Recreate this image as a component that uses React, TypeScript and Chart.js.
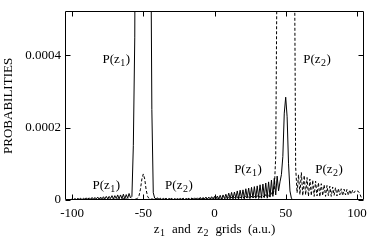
import { useEffect, useRef } from 'react';
import { Chart, registerables } from 'chart.js';

Chart.register(...registerables);

// grid points (a.u.)
const zGrid = [
  -101, -100, -99, -98, -97, -96, -95, -94, -93, -92,
  -91, -90, -89, -88, -87, -86, -85, -84, -83, -82,
  -81, -80, -79, -78, -77, -76, -75, -74, -73, -72,
  -71, -70, -69, -68, -67, -66, -65, -64, -63, -62,
  -61, -60, -59, -58, -57, -56, -55, -54, -53, -52,
  -51, -50, -49, -48, -47, -46, -45, -44, -43, -42,
  -41, -40, -39, -38, -37, -36, -35, -34, -33, -32,
  -31, -30, -29, -28, -27, -26, -25, -24, -23, -22,
  -21, -20, -19, -18, -17, -16, -15, -14, -13, -12,
  -11, -10, -9, -8, -7, -6, -5, -4, -3, -2,
  -1, 0, 1, 2, 3, 4, 5, 6, 7, 8,
  9, 10, 11, 12, 13, 14, 15, 16, 17, 18,
  19, 20, 21, 22, 23, 24, 25, 26, 27, 28,
  29, 30, 31, 32, 33, 34, 35, 36, 37, 38,
  39, 40, 41, 42, 43, 44, 45, 46, 47, 48,
  49, 50, 51, 52, 53, 54, 55, 56, 57, 58,
  59, 60, 61, 62, 63, 64, 65, 66, 67, 68,
  69, 70, 71, 72, 73, 74, 75, 76, 77, 78,
  79, 80, 81, 82, 83, 84, 85, 86, 87, 88,
  89, 90, 91, 92, 93, 94, 95, 96, 97, 98,
  99, 100, 101, 102, 103, 104,
];

// P(z1), in units of 1e-6 (solid)
const p1Micro = [
  0, 3, 1, 4, 1, 4, 2, 5, 1, 5,
  2, 6, 2, 6, 2, 7, 2, 7, 3, 8,
  2, 8, 3, 9, 3, 10, 3, 10, 4, 12,
  3, 12, 4, 14, 3, 14, 4, 16, 3, 15,
  5, 18, 6, 10, 150, 450, 1500, 3000, 3000, 3000,
  3000, 3000, 3000, 3000, 3000, 3000, 900, 250, 20, 5,
  3, 6, 2, 5, 1, 5, 2, 4, 1, 4,
  2, 4, 1, 3, 1, 4, 1, 4, 2, 5,
  1, 4, 2, 5, 1, 5, 2, 6, 2, 6,
  2, 7, 2, 7, 3, 8, 2, 8, 3, 9,
  3, 10, 3, 11, 3, 13, 2, 14, 4, 16,
  3, 19, 4, 21, 3, 22, 5, 25, 4, 27,
  5, 28, 4, 31, 6, 33, 5, 35, 6, 37,
  5, 39, 7, 42, 6, 44, 8, 47, 7, 50,
  9, 55, 10, 60, 14, 66, 25, 50, 70, 120,
  240, 284, 230, 100, 25, 5, 1, 0, 0, 0,
  0, 0, 0, 0, 0, 0, 0, 0, 0, 0,
  0, 0, 0, 0, 0, 0, 0, 0, 0, 0,
  0, 0, 0, 0, 0, 0, 0, 0, 0, 0,
  0, 0, 0, 0, 0, 0, 0, 0, 0, 0,
  0, 0, 0, 0, 0, 0,
];

// P(z2), in units of 1e-6 (dashed)
const p2Micro = [
  1, 2, 1, 2, 1, 3, 1, 2, 1, 3,
  1, 3, 1, 2, 1, 3, 1, 3, 1, 2,
  1, 3, 1, 3, 1, 3, 2, 3, 1, 3,
  1, 3, 2, 3, 1, 3, 2, 4, 1, 3,
  2, 3, 1, 2, 1, 2, 3, 5, 12, 30,
  58, 72, 58, 28, 10, 4, 2, 3, 2, 3,
  1, 3, 2, 3, 1, 3, 2, 4, 1, 3,
  2, 4, 1, 3, 2, 4, 1, 4, 2, 3,
  1, 4, 2, 4, 1, 5, 2, 4, 1, 5,
  2, 5, 1, 5, 2, 6, 2, 5, 2, 6,
  2, 6, 3, 5, 2, 7, 3, 6, 2, 7,
  3, 7, 2, 8, 3, 7, 3, 9, 2, 8,
  4, 9, 3, 10, 4, 9, 3, 11, 4, 10,
  5, 12, 4, 13, 5, 12, 6, 15, 5, 16,
  8, 20, 15, 30, 120, 700, 2500, 3000, 3000, 3000,
  3000, 3000, 3000, 3000, 3000, 3000, 2000, 800, 90, 20,
  70, 15, 76, 12, 68, 14, 62, 10, 58, 12,
  55, 10, 52, 11, 48, 9, 45, 12, 42, 10,
  40, 12, 38, 10, 36, 13, 34, 11, 32, 14,
  31, 12, 30, 14, 29, 13, 28, 16, 27, 20,
  26, 25, 24, 18, 8, 0,
];

const xTickValues = [-100, -50, 0, 50, 100];
const xTickLabels = ['-100', '-50', '0', '50', '100'];
const yTickValues = [0, 0.0002, 0.0004];
const yTickLabels = ['0', '0.0002', '0.0004'];

const yTitle = 'PROBABILITIES';
const xTitleParts = [
  { t: 'z', sub: false },
  { t: '1', sub: true },
  { t: '  and  z', sub: false },
  { t: '2', sub: true },
  { t: '  grids  (a.u.)', sub: false },
];

// curve labels: which subscript, placed at data coordinates
const annSub = ['1', '2', '1', '2', '1', '2'];
const annZ = [-69, 72, -76, -25, 23.5, 80.5];
const annP = [0.00039, 0.00039, 0.000044, 0.000044, 0.000086, 0.000086];

const FAMILY = '"Liberation Serif", "Times New Roman", serif';

function drawRich(ctx: CanvasRenderingContext2D, parts: { t: string; sub: boolean }[], cx: number, cy: number) {
  const main = `13px ${FAMILY}`;
  const small = `10px ${FAMILY}`;
  let w = 0;
  for (const p of parts) {
    ctx.font = p.sub ? small : main;
    w += ctx.measureText(p.t).width + (p.sub ? 1 : 0);
  }
  let x = cx - w / 2;
  const base = cy + 4.5;
  ctx.textAlign = 'left';
  ctx.textBaseline = 'alphabetic';
  for (const p of parts) {
    ctx.font = p.sub ? small : main;
    ctx.fillText(p.t, x + (p.sub ? 0.5 : 0), p.sub ? base + 3 : base);
    x += ctx.measureText(p.t).width + (p.sub ? 1 : 0);
  }
}

const framePlugin = {
  id: 'frameTicks',
  afterDraw(chart: any) {
    const { ctx, chartArea: a, scales } = chart;
    const xs = scales.x;
    const ys = scales.y;
    const L = Math.floor(a.left) + 0.5;
    const R = Math.floor(a.right) - 0.5;
    const T = Math.floor(a.top) + 0.5;
    const B = Math.floor(a.bottom) - 0.5;
    ctx.save();
    ctx.strokeStyle = '#000';
    ctx.fillStyle = '#000';
    ctx.lineWidth = 1;
    ctx.setLineDash([]);
    ctx.beginPath();
    ctx.rect(L, T, R - L, B - T);
    const tl = 5;
    for (const v of xTickValues) {
      const px = Math.round(xs.getPixelForValue(v)) + 0.5;
      ctx.moveTo(px, B);
      ctx.lineTo(px, B - tl);
      ctx.moveTo(px, T);
      ctx.lineTo(px, T + tl);
    }
    for (const v of yTickValues) {
      const py = Math.round(ys.getPixelForValue(v)) + 0.5;
      ctx.moveTo(L, py);
      ctx.lineTo(L + tl, py);
      ctx.moveTo(R, py);
      ctx.lineTo(R - tl, py);
    }
    ctx.stroke();

    for (let i = 0; i < annSub.length; i++) {
      const cx = xs.getPixelForValue(annZ[i]);
      const cy = ys.getPixelForValue(annP[i]);
      drawRich(ctx, [
        { t: 'P(z', sub: false },
        { t: annSub[i], sub: true },
        { t: ')', sub: false },
      ], cx, cy);
    }

    drawRich(ctx, xTitleParts, (a.left + a.right) / 2, 228);
    ctx.restore();
  },
};

export default function App() {
  const ref = useRef<HTMLCanvasElement>(null);
  useEffect(() => {
    const chart = new Chart(ref.current!, {
      type: 'line',
      data: {
        datasets: [
          {
            label: 'P(z1)',
            data: zGrid.map((z, i) => ({ x: z, y: p1Micro[i] * 1e-6 })),
            borderColor: '#000',
            borderWidth: 1,
            pointRadius: 0,
            fill: false,
            tension: 0,
          },
          {
            label: 'P(z2)',
            data: zGrid.map((z, i) => ({ x: z, y: p2Micro[i] * 1e-6 })),
            borderColor: '#000',
            borderWidth: 1,
            borderDash: [3, 2],
            pointRadius: 0,
            fill: false,
            tension: 0,
          },
        ],
      },
      options: {
        animation: false,
        responsive: false,
        events: [],
        layout: { padding: { left: 0, right: 4, top: 1, bottom: 0 } },
        plugins: { legend: { display: false }, tooltip: { enabled: false } },
        scales: {
          x: {
            type: 'linear',
            min: -105,
            max: 105,
            afterBuildTicks: (s: any) => {
              s.ticks = xTickValues.map((v) => ({ value: v }));
            },
            afterFit: (s: any) => {
              s.height = 42;
              s.paddingLeft = 0;
              s.paddingRight = 0;
            },
            grid: { display: false, drawTicks: false },
            border: { display: false },
            ticks: {
              autoSkip: false,
              maxRotation: 0,
              padding: 6,
              color: '#000',
              font: { family: FAMILY, size: 13 },
              callback: (v: any) => xTickLabels[xTickValues.indexOf(Number(v))] ?? '',
            },
          },
          y: {
            type: 'linear',
            min: 0,
            max: 0.00052,
            afterBuildTicks: (s: any) => {
              s.ticks = yTickValues.map((v) => ({ value: v }));
            },
            afterFit: (s: any) => {
              s.width = 65;
            },
            grid: { display: false, drawTicks: false },
            border: { display: false },
            ticks: {
              padding: 4,
              color: '#000',
              font: { family: FAMILY, size: 13 },
              callback: (v: any) => yTickLabels[yTickValues.indexOf(Number(v))] ?? '',
            },
            title: {
              display: true,
              text: yTitle,
              color: '#000',
              font: { family: FAMILY, size: 13 },
              padding: { top: 1, bottom: 0 },
            },
          },
        },
      },
      plugins: [framePlugin],
    });
    return () => chart.destroy();
  }, []);
  return (
    <div style={{ position: 'fixed', left: 0, top: 0, width: 368, height: 242, background: '#fff' }}>
      <canvas ref={ref} width={368} height={242} style={{ display: 'block' }} />
    </div>
  );
}
